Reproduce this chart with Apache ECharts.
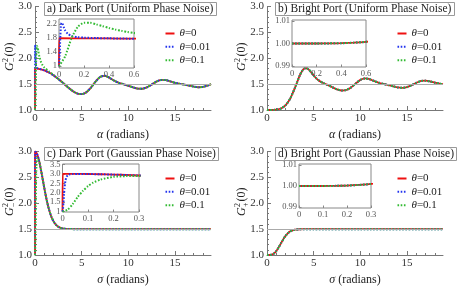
<!DOCTYPE html>
<html><head><meta charset="utf-8">
<script src="https://cdn.jsdelivr.net/npm/echarts@6/dist/echarts.min.js"></script>
<style>html,body{margin:0;padding:0;background:#fff}#c{width:463px;height:290px}</style>
</head><body><div id="c"></div>
<script>
// ---------------- data ----------------
// Uniform phase noise, common curve (all theta) - dark port
const alphaU = [0.5,0.75,1,1.5,2,2.5,3,3.5,3.75,4,4.25,4.5,4.75,5,5.25,5.5,6,6.5,7,7.5,8,8.5,9,9.5,10,10.5,11,11.5,12,12.5,13,13.5,14,14.5,15,15.5,16,16.5,17,17.5,18,18.5,18.85];
const darkU  = [1.791,1.781,1.766,1.724,1.668,1.599,1.523,1.444,1.406,1.372,1.343,1.321,1.308,1.307,1.319,1.344,1.434,1.551,1.641,1.661,1.619,1.564,1.524,1.496,1.468,1.437,1.413,1.411,1.439,1.492,1.549,1.581,1.579,1.553,1.526,1.507,1.490,1.472,1.452,1.440,1.446,1.473,1.5];
// near alpha = 0, theta = 0 / 0.01 / 0.1
const alphaU0 = [0,0.001,0.25];
const darkU0  = [1,1.8,1.798];
const alphaU1 = [0,0.005,0.01,0.015,0.02,0.025,0.03,0.04,0.05,0.07,0.1,0.15,0.2,0.3,0.4];
const darkU1  = [1,1.289,1.8,2.126,2.241,2.242,2.2,2.099,2.02,1.928,1.867,1.831,1.817,1.805,1.798];
const alphaU2 = [0,0.05,0.1,0.15,0.2,0.25,0.3,0.35,0.4,0.45,0.5,0.55,0.6,0.8,1,1.5,2];
const darkU2  = [1,1.289,1.8,2.126,2.24,2.24,2.197,2.145,2.094,2.05,2.012,1.98,1.95,1.869,1.822,1.745,1.676];
// Uniform phase noise - bright port (all theta)
const alphaB  = [0,0.2,0.3,0.4,0.5,0.6,0.7,1,1.5,2,2.5,3,3.5,3.75,4,4.25,4.5,4.75,5,5.25,5.5,6,6.5,7,7.5,8,8.5,9,9.5,10,10.5,11,11.5,12,12.5,13,13.5,14,14.5,15,15.5,16,16.5,17,17.5,18,18.5,18.85];
const brightU = [1,1.00001,1.00005,1.00014,1.00035,1.00073,1.00134,1.0057,1.0293,1.0939,1.2258,1.4328,1.6631,1.7507,1.8002,1.8066,1.7764,1.7246,1.6675,1.6166,1.5765,1.5231,1.4826,1.4401,1.3998,1.3767,1.3868,1.4362,1.5120,1.5814,1.6110,1.5948,1.5575,1.5250,1.5026,1.4820,1.4580,1.4360,1.4275,1.4425,1.4804,1.5271,1.5606,1.5669,1.5507,1.5276,1.5094,1.5];
// Gaussian phase noise - dark port, common curve
const sigmaG = [0.5,0.75,1,1.25,1.5,1.75,2,2.25,2.5,2.75,3,3.5,4,5,10,18.85];
const darkG  = [2.772,2.540,2.290,2.063,1.877,1.740,1.645,1.583,1.545,1.523,1.511,1.502,1.500,1.5,1.5,1.5];
const sigmaG0 = [0,0.001,0.05,0.1,0.15,0.2,0.25,0.3,0.4];
const darkG0  = [1,3.0,2.998,2.99,2.978,2.961,2.939,2.912,2.849];
const sigmaG1 = [0,0.002,0.004,0.006,0.008,0.01,0.012,0.015,0.02,0.025,0.03,0.04,0.06,0.1,0.15,0.2,0.25,0.3,0.4];
const darkG1  = [1,1.151,1.514,1.919,2.256,2.5,2.664,2.811,2.92,2.961,2.979,2.991,2.993,2.988,2.977,2.96,2.938,2.911,2.848];
const sigmaG2 = [0,0.02,0.04,0.06,0.08,0.1,0.12,0.15,0.2,0.25,0.3,0.4];
const darkG2  = [1,1.10,1.40,1.78,2.10,2.35,2.53,2.70,2.84,2.88,2.89,2.836];
// Gaussian phase noise - bright port (all theta)
const sigmaD  = [0,0.1,0.15,0.2,0.25,0.3,0.4,0.5,0.75,1,1.25,1.5,1.75,2,2.25,2.5,2.75,3,3.5,4,5,10,18.85];
const brightG = [1,1.00001,1.00006,1.0002,1.0005,1.001,1.003,1.0069,1.0301,1.0774,1.1470,1.2281,1.3071,1.3738,1.4236,1.4570,1.4775,1.4890,1.4978,1.4997,1.5,1.5,1.5];

const thetaLabels = ['0','0.01','0.1'];
const titles = ['a) Dark Port (Uniform Phase Noise)','b) Bright Port (Uniform Phase Noise)','c) Dark Port (Gaussian Phase Noise)','d) Bright Port (Gaussian Phase Noise)'];
const mainXTicks = [0,5,10,15];
const mainYTicks = [1,1.5,2,2.5,3];

// ---------------- build ----------------
const FONT = 'Liberation Serif';
const COLORS = ['#ee1111','#2233ee','#33bb33'];
function zip(xs, ys){ return xs.map((x,i)=>[x, ys[i]]); }

const common = zip(alphaU, darkU);
const panelData = [
  [zip(alphaU0,darkU0).concat(common), zip(alphaU1,darkU1).concat(common), zip(alphaU2,darkU2).concat(common.slice(5))],
  [zip(alphaB,brightU), zip(alphaB,brightU), zip(alphaB,brightU)],
  [zip(sigmaG0,darkG0).concat(zip(sigmaG,darkG)), zip(sigmaG1,darkG1).concat(zip(sigmaG,darkG)), zip(sigmaG2,darkG2).concat(zip(sigmaG,darkG))],
  [zip(sigmaD,brightG), zip(sigmaD,brightG), zip(sigmaD,brightG)]
];
const offs = [[0,0],[232,0],[0,145],[232,145]];
const insetCfg = [
  {grid:{left:59,top:19,width:75,height:49}, x:[0,0.6], xt:[0,0.2,0.4,0.6], y:[0.95,2.35], yt:[1,1.4,1.8,2.2], fmt:v=>v===1?'1':v.toFixed(1)},
  {grid:{left:292,top:20,width:74,height:47}, x:[0,0.6], xt:[0,0.2,0.4,0.6], y:[0.9896,1.0104], yt:[0.99,1,1.01], fmt:v=>v.toFixed(2)},
  {grid:{left:62.5,top:164,width:76.5,height:48}, x:[0,0.3], xt:[0,0.1,0.2,0.3], y:[0.98,3.52], yt:[1,1.5,2,2.5,3,3.5], fmt:v=>v===1?'1':v.toFixed(1)},
  {grid:{left:299,top:164,width:72,height:44}, x:[0,0.3], xt:[0,0.1,0.2,0.3], y:[0.9896,1.0104], yt:[0.99,1,1.01], fmt:v=>v.toFixed(2)}
];
const minorX = []; for(let i=1;i<=18;i++){ if(i%5) minorX.push(i); }
const minorY = []; for(let i=11;i<30;i++){ if(i%5) minorY.push(i/10); }

const grids=[], xAxes=[], yAxes=[], series=[], titleArr=[], graphics=[];
const AX = '#777';
function lineStyleFor(k){ return k===0 ? {color:COLORS[0], width:1.8} : {color:COLORS[k], width:2, type:[1.6,1.6]}; }

for(let p=0;p<4;p++){
  const [px,py] = offs[p];
  const gMain = grids.length;
  grids.push({left:px+35, top:py+6.5, width:176, height:103.5, outerBoundsMode:'none', containLabel:false, show:false});
  const xi = xAxes.length, yi = yAxes.length;
  const xname = p<2 ? '{i|α} (radians)' : '{i|σ} (radians)';
  xAxes.push({type:'value', gridIndex:gMain, min:0, max:18.85, position:'bottom',
    axisLine:{show:true, onZero:false, lineStyle:{color:AX,width:1}},
    axisTick:{show:true, inside:true, length:4, customValues:mainXTicks, lineStyle:{color:AX}},
    axisLabel:{customValues:mainXTicks, fontFamily:FONT, fontSize:11, color:'#333', margin:3},
    splitLine:{show:false},
    name:xname, nameLocation:'middle', nameGap:19,
    nameTextStyle:{fontFamily:FONT, fontSize:12, color:'#222', rich:{i:{fontFamily:FONT,fontSize:12,fontStyle:'italic',color:'#222'}}}});
  xAxes.push({type:'value', gridIndex:gMain, min:0, max:18.85, position:'bottom',
    axisLine:{show:false}, axisTick:{show:true, inside:true, length:2, customValues:minorX, lineStyle:{color:AX}},
    axisLabel:{show:false}, splitLine:{show:false}});
  yAxes.push({type:'value', gridIndex:gMain, min:1, max:3, position:'left',
    axisLine:{show:true, onZero:false, lineStyle:{color:AX,width:1}},
    axisTick:{show:true, inside:true, length:4, customValues:mainYTicks, lineStyle:{color:AX}},
    axisLabel:{customValues:mainYTicks, formatter:v=>v.toFixed(1), fontFamily:FONT, fontSize:11, color:'#333', margin:3},
    splitLine:{show:false}});
  yAxes.push({type:'value', gridIndex:gMain, min:1, max:3, position:'left',
    axisLine:{show:false}, axisTick:{show:true, inside:true, length:2, customValues:minorY, lineStyle:{color:AX}},
    axisLabel:{show:false}, splitLine:{show:false}});
  // reference line at 1.5
  series.push({type:'line', xAxisIndex:xi, yAxisIndex:yi, data:[[0,1.5]], showSymbol:false, symbol:'none', z:1, silent:true,
    lineStyle:{width:0}, markLine:{symbol:'none', silent:true, label:{show:false}, lineStyle:{color:'#aaa', width:1, type:'solid'}, data:[{yAxis:1.5}]}});
  for(let k=0;k<3;k++){
    series.push({type:'line', xAxisIndex:xi, yAxisIndex:yi, data:panelData[p][k], showSymbol:false, symbol:'none', smooth:0.2, z:2+k,
      lineStyle:lineStyleFor(k), silent:true});
  }
  // inset
  const c = insetCfg[p];
  const gIn = grids.length;
  grids.push(Object.assign({show:true, backgroundColor:'#fff', borderColor:'#888', borderWidth:1, z:6, outerBoundsMode:'none', containLabel:false}, c.grid));
  const xj = xAxes.length, yj = yAxes.length;
  xAxes.push({type:'value', gridIndex:gIn, min:c.x[0], max:c.x[1], position:'bottom', z:7,
    axisLine:{show:false}, axisTick:{show:true, inside:true, length:2.5, customValues:c.xt, lineStyle:{color:'#888'}},
    axisLabel:{customValues:c.xt, formatter:v=>String(+v.toFixed(2)), fontFamily:FONT, fontSize:8.5, color:'#555', margin:2},
    splitLine:{show:false}});
  yAxes.push({type:'value', gridIndex:gIn, min:c.y[0], max:c.y[1], position:'left', z:7,
    axisLine:{show:false}, axisTick:{show:true, inside:true, length:2.5, customValues:c.yt, lineStyle:{color:'#888'}},
    axisLabel:{customValues:c.yt, formatter:c.fmt, fontFamily:FONT, fontSize:8.5, color:'#555', margin:2},
    splitLine:{show:false}});
  for(let k=0;k<3;k++){
    series.push({type:'line', xAxisIndex:xj, yAxisIndex:yj, data:panelData[p][k], showSymbol:false, symbol:'none', smooth:0.2, z:8+k,
      lineStyle:lineStyleFor(k), silent:true, clip:true});
  }
  // title box
  titleArr.push({text:titles[p], left:px+(p%2?43:44), top:py+2, padding:[1,3,1,3], borderColor:'#999', borderWidth:1, backgroundColor:'#fff',
    textStyle:{fontFamily:FONT, fontSize:11.5, fontWeight:'normal', color:'#222', lineHeight:12}, z:12});
  // legend
  const L = px+165.5;
  [33.5,46.8,60.3].forEach((dy,k)=>{
    graphics.push({type:'line', z:20, silent:true, shape:{x1:L, y1:py+dy, x2:L+9, y2:py+dy},
      style:{stroke:COLORS[k], lineWidth:2, lineDash:k?[1.6,1.6]:null}});
    graphics.push({type:'text', z:20, silent:true, style:{x:L+14, y:py+dy, text:'{i|θ}='+thetaLabels[k], verticalAlign:'middle',
      fontFamily:FONT, fontSize:11, fill:'#222', rich:{i:{fontFamily:FONT,fontSize:11,fontStyle:'italic',fill:'#222'}}}});
  });
  // y-axis label G^2_{-/+}(0)
  const sign = (p%2===0) ? '−' : '+';
  graphics.push({type:'group', x:px+10, y:py+57, rotation:Math.PI/2, z:20, silent:true, children:[
    {type:'text', style:{x:-14, y:0, text:'G', fontFamily:FONT, fontSize:12, fontStyle:'italic', fill:'#222', verticalAlign:'middle', align:'left'}},
    {type:'text', style:{x:-5, y:-4.5, text:'2', fontFamily:FONT, fontSize:8, fill:'#222', verticalAlign:'middle', align:'left'}},
    {type:'text', style:{x:-5, y:4, text:sign, fontFamily:FONT, fontSize:8, fill:'#222', verticalAlign:'middle', align:'left'}},
    {type:'text', style:{x:0.5, y:0, text:'(0)', fontFamily:FONT, fontSize:12, fill:'#222', verticalAlign:'middle', align:'left'}}
  ]});
}

const chart = echarts.init(document.getElementById('c'), null, {renderer:'canvas'});
chart.setOption({animation:false, backgroundColor:'#fff', title:titleArr, grid:grids, xAxis:xAxes, yAxis:yAxes, series:series, graphic:graphics});
</script></body></html>
